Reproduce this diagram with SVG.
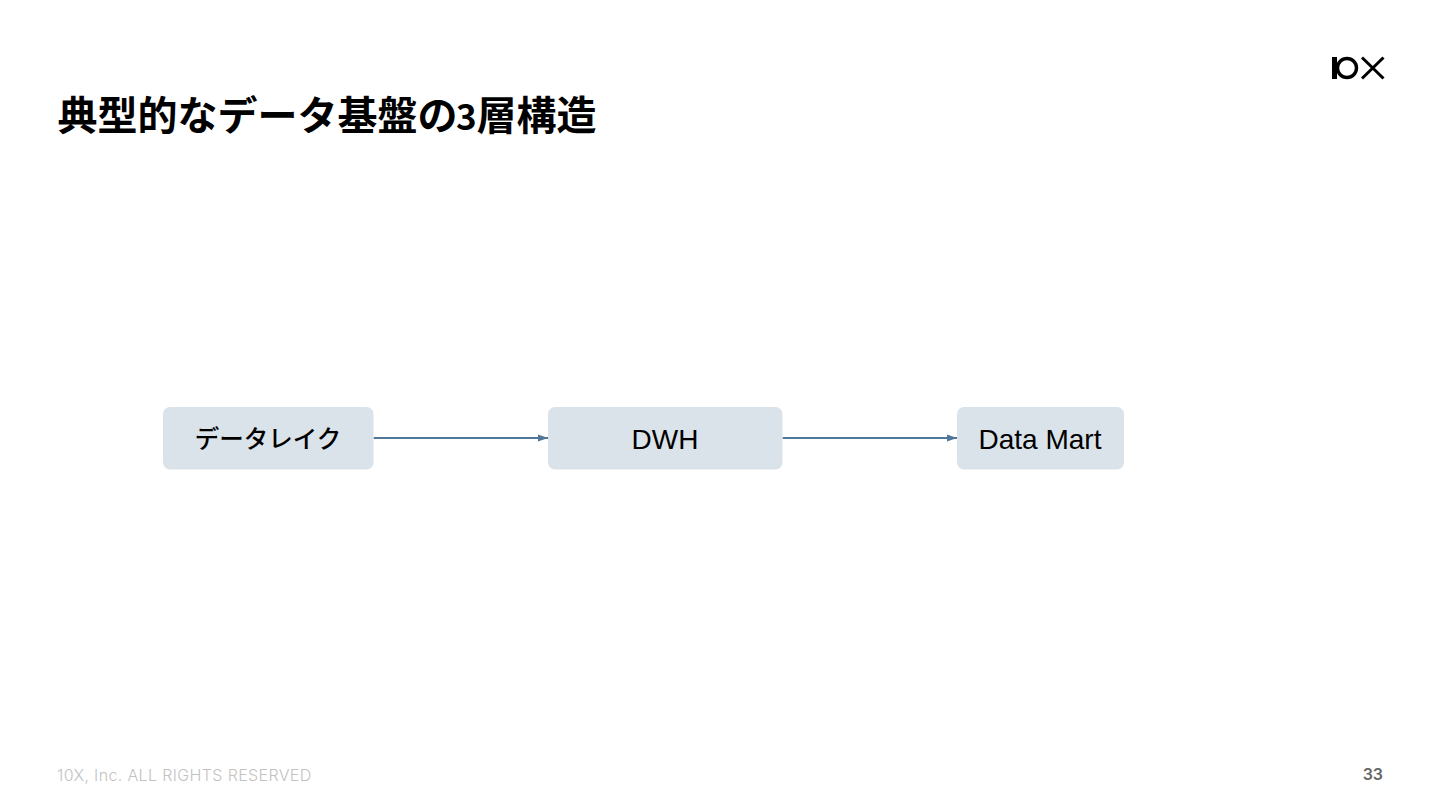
<svg xmlns="http://www.w3.org/2000/svg" width="1440" height="810" viewBox="0 0 1440 810">
<style>
.box{fill:#dbe3ea}
.lbl{font-family:"Liberation Sans","Noto Sans CJK JP",sans-serif;font-size:28px;fill:#000;text-anchor:middle}
.jp{font-family:"Noto Sans CJK JP",sans-serif;font-size:24.500px;font-weight:500}
.conn{stroke:#4f7799;stroke-width:1.800;fill:none;marker-end:url(#arr)}
.foot{font-family:"Inter","Open Sans",sans-serif}
</style>
<defs>
<marker id="arr" markerUnits="userSpaceOnUse" markerWidth="11" markerHeight="8" refX="10" refY="4" orient="auto"><path d="M0 0.500L10 4L0 7.500Z" fill="#4f7799"/></marker>
</defs>
<rect width="1440" height="810" fill="#fff"/>
<text id="title" y="130" font-family="'Noto Sans CJK JP',sans-serif" font-weight="700" font-size="40px" fill="#000"><tspan x="57.500">典型的なデータ基盤の</tspan><tspan x="456" font-size="35px">3</tspan><tspan x="476.500">層構造</tspan></text>
<g id="logo" fill="none" stroke="#000">
<rect x="1332" y="57" width="5" height="22" fill="#000" stroke="none"/>
<circle cx="1347" cy="68" r="9.500" stroke-width="3.400"/>
<path d="M1362 57.500L1383.500 78.500M1383.500 57.500L1362 78.500" stroke-width="3"/>
</g>
<g id="connectors">
<path class="conn" d="M373.500 438H548"/>
<path class="conn" d="M782.500 438H957"/>
</g>
<g id="node-lake"><rect class="box" x="163" y="407" width="210.500" height="62.500" rx="7"/><text class="lbl jp" x="268" y="448">データレイク</text></g>
<g id="node-dwh"><rect class="box" x="548" y="407" width="234.500" height="62.500" rx="7"/><text class="lbl" x="665" y="449">DWH</text></g>
<g id="node-mart"><rect class="box" x="957" y="407" width="167" height="62.500" rx="7"/><text class="lbl" x="1040" y="449">Data Mart</text></g>
<text id="copyright" class="foot" x="57" y="781" font-size="16px" font-weight="300" letter-spacing="0.360" fill="#c2c2c2">10X, Inc. ALL RIGHTS RESERVED</text>
<text id="page" class="foot" x="1383" y="780" font-size="16px" font-weight="600" fill="#666" text-anchor="end">33</text>
</svg>
